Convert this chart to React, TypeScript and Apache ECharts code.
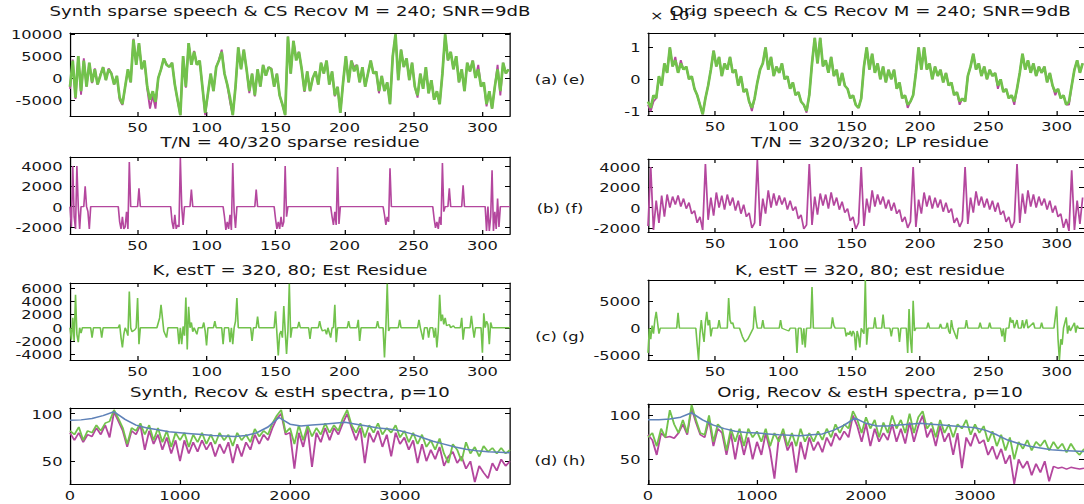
import React, { useEffect, useRef } from "react";
import * as echarts from "echarts";

// ---------- tick labels ----------
const X_TICKS_TIME = [50, 100, 150, 200, 250, 300];
const X_TICKS_FREQ = [0, 1000, 2000, 3000];
const Y_TICKS_A = [-5000, 0, 5000, 10000];
const Y_TICKS_B = [-2000, 0, 2000, 4000];
const Y_TICKS_C = [-4000, -2000, 0, 2000, 4000, 6000];
const Y_TICKS_D = [50, 100];
const Y_TICKS_E = [-1, 0, 1];
const Y_TICKS_F = [-2000, 0, 2000, 4000];
const Y_TICKS_G = [-5000, 0, 5000];
const Y_TICKS_H = [50, 100];

// ---------- titles ----------
const TITLES_LEFT = [
  "Synth sparse speech & CS Recov M = 240; SNR=9dB",
  "T/N = 40/320 sparse residue",
  "K, estT = 320, 80; Est Residue",
  "Synth, Recov & estH spectra, p=10",
];
const TITLES_RIGHT = [
  "Orig speech & CS Recov M = 240; SNR=9dB",
  "T/N = 320/320; LP residue",
  "K, estT = 320, 80; est residue",
  "Orig, Recov & estH spectra, p=10",
];
const PANEL_TAGS = ["(a) (e)", "(b) (f)", "(c) (g)", "(d) (h)"];
const EXPONENT_LABEL = "× 10⁴";

// ---------- sample index (odd samples 1..319) ----------
const SAMPLE_IDX = Array.from({ length: 160 }, (_, i) => 1 + 2 * i);
const SPEC_FREQ = Array.from({ length: 101 }, (_, i) => i * 40);
const ENV_FREQ = Array.from({ length: 41 }, (_, i) => i * 100);

// ---------- (a) synth speech (magenta) & recovered (green) ----------
const A_RECOV = [
  -2000, 4000, -4500, 5000, -3000, 4000, -2000, 3500, -1000, 2000,
  -1500, 500, 2500, -500, 2000, 1000, -1500, 500, -4500, -6000,
  -2000, 2000, -1000, 8800, 3000, 8000, 2000, 4000, -2000, -5000,
  -3000, -5500, 0, 2000, 4500, 3000, 2500, 3500, -1500, -5000,
  -8500, 5000, -2000, 8000, 3000, 6000, 3000, 4000, -2000, -8000,
  -3500, 1000, -3000, 2500, 4000, 6000, 1000, -1500, -4500, -8500,
  -2000, 7000, 2000, 6500, 2000, -3000, 1000, -4000, 2000, -2000,
  3000, 500, 2500, 2000, -2000, 1000, -4000, -6000, -8500, 9500,
  1000, 8500, 4000, 6000, 2000, -3000, 1500, -3000, 0, 1500,
  -1500, 3500, 1000, 4000, -1500, 1500, -4000, -2000, -8000, -1000,
  5000, -1000, 4000, 1500, 3000, -1000, 2500, -2000, 1000, 4000,
  1000, 1500, -3000, 500, -3000, -1000, -6000, 5000, 10000, -500,
  6500, 2500, 4500, -500, 3500, -2000, -4000, 1000, -2500, 2500,
  -3500, -500, -5000, -3000, -6000, 1000, 10000, 4000, 6000, 2000,
  5000, -1000, 2000, -3000, 3500, 1500, 4000, 0, 2000, -2000,
  -1000, -6000, -3000, -7000, -2000, 2000, -3000, 3500, 1000, 2000,
];
const A_SYNTH = [
  -2500, 4200, -4800, 5000, -3800, 4500, -2000, 3500, -1200, 2200,
  -1500, 800, 2500, -500, 2200, 1200, -1500, 500, -5000, -6200,
  -2000, 2000, -1000, 9000, 3000, 8000, 2000, 4000, -2500, -7000,
  -4000, -7000, 0, 2000, 4500, 3200, 2500, 3500, -1500, -5200,
  -8500, 5000, -2200, 8000, 3000, 6200, 3000, 4000, -2000, -8500,
  -3500, 1000, -3000, 2500, 4200, 6500, 1000, -1500, -5500, -8500,
  -2000, 7000, 2000, 6500, 2000, -3500, 1000, -4200, 2000, -2000,
  3000, 500, 2500, 2200, -2000, 1000, -4000, -6200, -8500, 9500,
  1000, 8500, 4500, 6000, 2000, -3200, 1500, -3000, 0, 1500,
  -1500, 3500, 1000, 4000, -1500, 1500, -4200, -2000, -8000, -1000,
  5000, -1000, 4000, 2500, 3000, -1000, 2500, -2000, 1000, 4000,
  1000, 1500, -3500, 500, -3000, -1000, -6000, 5000, 10000, -500,
  6500, 2500, 4500, -500, 3500, -2000, -4500, 1000, -2500, 2500,
  -3500, -500, -5000, -3000, -6000, 1000, 10000, 4000, 6000, 2000,
  5000, -1000, 2000, -3000, 3500, 1500, 4000, 0, 3000, -2000,
  -1000, -6500, -3000, -7000, -2000, 3000, -4000, 3500, 1000, 2000,
];

// ---------- (b) sparse residue [sample, value] ----------
const B_RESIDUE = [
  [1, 0], [2, -2000], [3, 4000], [4, -1000], [5, -2200], [6, 4000], [7, 0], [8, -2200], [9, 0],
  [11, 0], [12, 2000], [13, 0], [14, -500], [15, -2200], [16, 0],
  [36, 0], [37, -1500], [38, -2200], [39, -1000], [40, -2200], [41, -2000], [42, -500], [43, -2200], [44, 4400], [45, 0],
  [50, 0], [51, 1800], [52, 0],
  [74, 0], [75, -1500], [76, -2200], [77, -800], [78, -2200], [79, -1800], [80, -2000], [81, 4800], [82, 0], [83, -1800], [84, 0],
  [88, 0], [89, 1700], [90, 0],
  [112, 0], [113, -1000], [114, -2300], [115, -1500], [116, -2200], [117, -800], [118, -2300], [119, 4300], [120, -500], [121, -2100], [122, 0],
  [135, 0], [136, 1700], [137, 0],
  [149, 0], [150, -1200], [151, -2200], [152, -1500], [153, -2200], [154, -1000], [155, -2000], [156, -1500], [157, 4000], [158, -1000], [159, 0],
  [190, 0], [191, -1000], [192, -1800], [193, -500], [194, -1800], [195, 3900], [196, -1700], [197, 0],
  [228, 0], [229, -800], [230, -1800], [231, -1000], [232, -1500], [233, 3800], [234, 0],
  [264, 0], [265, -1200], [266, -2100], [267, -1500], [268, -2200], [269, -1000], [270, -1800], [271, 4300], [272, -500], [273, 0],
  [275, 0], [276, 1800], [277, 0], [285, 0], [286, 2100], [287, 0],
  [302, 0], [303, -2400], [304, 0], [305, -2400], [306, -1000], [307, 3600], [308, -2400], [309, -500], [310, -2200], [311, 800], [312, -2000], [313, 0],
  [320, 0],
];

// ---------- (c) estimated residue [sample, value] ----------
const C_EST = [
  [1, 0], [2, -1800], [3, 1500], [4, -2000], [5, 5000], [6, -1000], [7, -2200], [8, 0], [9, -800], [10, 0],
  [16, 0], [17, -1500], [18, 0], [23, 0], [24, -1500], [25, 0],
  [36, 0], [37, 500], [38, -1500], [39, -3000], [40, -1000], [41, 0], [42, -500], [43, -1200], [44, 5500], [45, 0],
  [46, -600], [48, -300], [49, 0], [50, 4500], [51, -2500], [52, 0],
  [64, 0], [66, 1500], [67, 3500], [68, 1500], [69, -500], [70, -1000], [71, -1500], [72, 0],
  [79, 0], [80, -2500], [81, 0], [82, -2500], [83, 200], [84, -1200], [85, 4600], [86, -3300], [87, 3200], [88, 0],
  [89, 800], [90, -600], [91, 0], [93, -1000], [94, 0], [97, 0], [98, 800], [99, -500], [100, -2700], [101, 0],
  [105, 0], [106, 1000], [107, 0], [111, 0], [112, -2500], [113, 0], [116, 0], [117, -2200], [118, 0],
  [119, -2500], [120, 0], [121, 1000], [122, 4500], [123, 0], [132, 0], [133, -2000], [134, 0],
  [136, 0], [137, 1700], [138, 0], [149, 0], [150, 2500], [151, -800], [152, -4200], [153, -1000],
  [154, -500], [155, -1500], [156, 3300], [157, -500], [158, -4000], [159, -500], [160, 6700], [161, -1500], [162, 0],
  [166, 0], [167, 900], [168, 0], [174, 0], [175, -1700], [176, 0], [181, 0], [182, 1000], [183, 0],
  [184, -500], [186, -300], [187, -1000], [188, 0], [190, -1500], [191, 0], [192, 0], [193, 3500], [194, -2200], [195, 0],
  [202, 0], [203, 1000], [204, 0], [209, 0], [210, 1200], [211, -2000], [212, 0],
  [223, 0], [224, 1000], [225, 0], [228, 0], [229, -4500], [230, 0], [231, 6700], [232, -500], [233, 0],
  [239, 0], [240, 1200], [241, 0], [253, 0], [254, 1200], [255, 0], [257, -1800], [258, 0],
  [260, 0], [261, -1500], [262, 0], [264, 0], [265, -1500], [266, 0], [267, -3000], [268, -500], [269, 5000],
  [270, 1000], [271, 2000], [272, 500], [273, 1500], [274, 300], [276, 500], [277, 0], [279, 300], [280, 0],
  [284, 0], [285, 1500], [286, -1800], [287, 0], [291, 0], [292, 1800], [293, 0], [294, -1500], [295, 0],
  [299, 0], [300, -3800], [301, 2200], [302, 0], [303, 1000], [304, 500], [305, -2500], [306, 800], [307, 0],
  [310, 0], [320, 0],
];

// ---------- (d) synth / recov / estH spectra (dB) ----------
const D_SYNTH = [
  80, 72, 80, 70, 78, 76, 85, 78, 88, 75,
  102, 92, 82, 65, 82, 78, 88, 62, 82, 68,
  78, 62, 75, 58, 72, 50, 72, 58, 70, 60,
  72, 62, 70, 55, 68, 58, 70, 48, 68, 55,
  70, 62, 78, 68, 78, 72, 85, 95, 100, 78,
  80, 42, 80, 65, 85, 44, 80, 70, 85, 72,
  85, 78, 90, 100, 85, 72, 85, 48, 80, 70,
  82, 65, 78, 55, 80, 68, 75, 62, 72, 48,
  68, 50, 62, 52, 65, 45, 55, 60, 48, 55,
  42, 50, 28, 45, 38, 32, 48, 40, 52, 45,
  50,
];
const D_RECOV = [
  82, 78, 86, 72, 82, 80, 88, 82, 90, 92,
  104, 95, 85, 68, 85, 82, 90, 78, 88, 72,
  85, 70, 82, 65, 80, 72, 80, 65, 78, 70,
  80, 68, 78, 68, 80, 72, 78, 66, 80, 72,
  78, 70, 84, 76, 82, 78, 90, 98, 104, 80,
  85, 68, 88, 72, 88, 76, 85, 78, 90, 80,
  88, 82, 95, 104, 88, 80, 90, 75, 88, 80,
  90, 78, 85, 80, 88, 75, 82, 70, 80, 68,
  78, 65, 72, 62, 74, 58, 48, 68, 62, 50,
  70, 58, 65, 55, 66, 60, 64, 58, 64, 58,
  62,
];
const D_ESTH = [
  93, 93.5, 95, 98, 102, 94, 88, 85, 83, 81,
  80, 79, 78, 77, 76.5, 76, 77, 80, 86, 96,
  89, 87, 88, 89, 90, 91, 89, 87, 85, 84,
  82, 79, 75, 71, 68, 65, 62.5, 61, 60, 59.5,
  59,
];

// ---------- (e) original speech (x 10^4) ----------
const E_RECOV = [
  -0.7, -0.9, -0.5, -0.6, 0.1, -0.2, 0.5, 0.2, 1.0, 0.4,
  0.6, 0.2, 0.5, 0.3, 0.4, 0.0, 0.1, -0.3, -0.5, -0.8,
  -1.1, -0.6, -0.2, 0.3, 0.9, 0.4, 0.7, 0.1, 0.5, 0.3,
  0.7, 0.2, 0.3, -0.2, 0.1, -0.4, -0.3, -0.7, -0.9, -0.6,
  -0.1, 0.3, 0.5, 1.0, 0.3, 0.7, 0.1, 0.4, 0.2, 0.5,
  0.0, 0.1, -0.3, -0.1, -0.5, -0.4, -0.7, -0.8, -1.0, -0.5,
  0.5, 1.3, 0.5, 1.3, 0.4, 0.6, 0.2, 0.7, 0.1, 0.3,
  -0.2, 0.2, -0.2, -0.3, -0.6, -0.5, -0.8, -0.9, -0.6, 0.4,
  1.0, 0.3, 0.8, 0.2, 0.5, 0.0, 0.4, -0.1, 0.3, 0.0,
  0.3, -0.3, -0.1, -0.6, -0.5, -0.8, -0.7, -0.5, 0.2, 1.0,
  0.3, 1.0, 0.3, 0.5, 0.0, 0.4, 0.1, 0.3, -0.1, 0.2,
  -0.2, -0.1, -0.5, -0.4, -0.7, -0.6, -0.7, 0.1, 0.4, 0.8,
  0.3, 0.5, 0.1, 0.4, 0.0, 0.3, 0.1, 0.2, -0.2, 0.0,
  -0.4, -0.3, -0.6, -0.5, -0.7, -0.3, 0.2, 0.8, 0.3, 0.6,
  0.2, 0.5, 0.1, 0.4, 0.2, 0.4, -0.1, 0.2, -0.2, -0.4,
  -0.3, -0.6, -0.5, -0.8, -0.7, -0.2, 0.3, 0.6, 0.2, 0.5,
];
const E_ORIG = [
  -0.8, -1.0, -0.7, -0.6, 0.1, -0.2, 0.5, 0.2, 1.0, 0.4,
  0.7, 0.2, 0.6, 0.3, 0.4, 0.0, 0.1, -0.3, -0.5, -0.8,
  -1.1, -0.6, -0.2, 0.3, 0.9, 0.4, 0.7, 0.1, 0.5, 0.3,
  0.7, 0.2, 0.3, -0.2, 0.1, -0.4, -0.3, -0.7, -1.0, -0.6,
  -0.1, 0.3, 0.5, 1.0, 0.3, 0.7, 0.1, 0.4, 0.2, 0.5,
  0.0, 0.1, -0.3, -0.1, -0.5, -0.4, -0.7, -0.8, -1.05, -0.5,
  0.5, 1.3, 0.5, 1.3, 0.4, 0.6, 0.2, 0.7, 0.1, 0.3,
  -0.2, 0.2, -0.2, -0.3, -0.6, -0.5, -0.8, -0.9, -0.6, 0.4,
  1.0, 0.3, 0.8, 0.2, 0.5, 0.0, 0.4, -0.1, 0.3, 0.0,
  0.3, -0.3, -0.1, -0.6, -0.5, -0.9, -0.7, -0.5, 0.2, 1.0,
  0.3, 1.0, 0.3, 0.5, 0.0, 0.4, 0.1, 0.3, -0.1, 0.2,
  -0.2, -0.1, -0.5, -0.4, -0.8, -0.6, -0.7, 0.1, 0.4, 0.8,
  0.3, 0.5, 0.1, 0.4, 0.0, 0.3, 0.1, 0.2, -0.3, 0.0,
  -0.4, -0.3, -0.6, -0.5, -0.8, -0.3, 0.2, 0.8, 0.3, 0.6,
  0.2, 0.5, 0.1, 0.4, 0.2, 0.4, -0.1, 0.2, -0.2, -0.5,
  -0.3, -0.6, -0.5, -0.8, -0.8, -0.2, 0.3, 0.6, 0.2, 0.5,
];

// ---------- (f) LP residue ----------
const F_LP = [
  -1800, 4000, -2200, 700, -1500, 1200, -900, 1300, 0, 1100,
  300, 1200, 100, 900, -100, 500, -600, -300, -1500, -900,
  -2200,
  4300, -1200, 1000, -800, 1500, 0, 1200, -200, 1300, 200,
  1000, -300, 700, -600, 300, -900, -500, -2000, -1500,
  4700, -1800, 900, -600, 1700, 0, 1400, 200, 1200, 300,
  1000, -200, 700, -300, 100, -1100, -700, -2100, -1700,
  4300, -1700, 1100, -700, 1400, 200, 1300, -100, 1500, 200,
  1000, -200, 600, -500, -100, -1300, -900, -2100, -1500,
  4000, -1800, 900, -500, 1700, 100, 1300, 300, 1100, -100,
  800, -300, 500, -600, -200, -1400, -900, -2000, -1400,
  4000, -1900, 800, -600, 1500, 100, 1200, -100, 1000, 0,
  800, -400, 500, -500, -100, -1500, -1000, -1900, -1300,
  4000, -1600, 1000, -500, 1600, 200, 1100, 0, 900, -200,
  700, -400, 500, -700, -300, -1400, -900, -2000, -1400,
  4300, -1500, 1400, -600, 1700, 100, 1300, 0, 1100, 200,
  900, -200, 700, -500, 200, -900, -600, -2000, -1100, -2300,
  3700, -2200, 700, -1600, 1000,
];

// ---------- (g) estimated residue [sample, value] ----------
const G_EST = [
  [1, -4500], [2, 0], [3, -2000], [4, 500], [5, -1000], [6, 1500], [7, 3000], [8, 1000], [9, -1000], [10, 0],
  [22, 0], [23, 2800], [24, 0], [36, 0], [37, -3000], [38, -5800], [39, -1000], [40, 1500], [41, -800], [42, -2500],
  [43, 1000], [44, 3000], [45, 500], [46, 1500], [47, -1500], [48, 0], [52, 0], [53, 1500], [54, 0],
  [59, 0], [60, 5500], [61, 1500], [62, 800], [63, 1000], [64, 0], [68, 0], [70, -1500], [72, -2500], [74, -2000],
  [76, -1000], [78, 0], [79, 4000], [80, 1500], [81, 0], [84, 0], [85, 1500], [86, 0], [97, 0], [98, 1500], [99, 0],
  [104, -500], [105, 0], [109, 0], [110, -4500], [111, 0], [113, 0], [114, -3000], [115, 0], [116, -3500], [117, 0],
  [120, 0], [121, 7500], [122, 0], [135, 0], [136, 2000], [137, 500], [138, 0], [145, 0], [146, -1500], [147, -800],
  [148, -1200], [149, -500], [150, -1500], [151, -500], [152, -1000], [153, -4000], [154, -500], [155, -1500], [156, -3500], [157, 0],
  [159, -1000], [160, 8800], [161, -3000], [162, 0], [166, 0], [167, 2000], [168, 0], [172, 0], [173, 2500], [174, 0],
  [178, 0], [179, -1500], [180, 0], [184, 0], [185, -2500], [186, 0], [190, 0], [191, -4500], [192, 3500], [193, -2000],
  [194, -4500], [195, 5000], [196, -500], [197, 0], [205, 0], [206, 1000], [207, 0], [214, 0], [215, 800], [216, 0],
  [219, 0], [220, 1000], [221, -500], [222, -1000], [223, 1500], [224, 0], [227, -2000], [228, 0], [233, 0], [234, 1500], [235, 0],
  [243, 0], [244, 1000], [245, 0], [250, 0], [251, 1000], [252, 0], [259, 0], [260, -1500], [261, 0], [262, -2500], [263, 0],
  [265, 0], [266, 2000], [267, 1000], [268, 1500], [269, 0], [271, 1500], [272, 0], [274, 0], [275, 1500], [276, 0],
  [278, 1600], [279, 0], [283, 1000], [284, 0], [288, 0], [289, 1000], [290, 0], [298, 0], [299, 2000], [300, 4000],
  [301, -2000], [302, -5800], [303, -2000], [304, -3000], [305, 0], [306, 1000], [307, 2000], [308, -1000], [309, 500], [310, -500],
  [311, 0], [313, 1000], [314, -800], [315, 500], [316, 0], [320, 0],
];

// ---------- (h) orig / recov / estH spectra (dB) ----------
const H_ORIG = [
  78, 72, 55, 80, 75, 76, 74, 80, 90, 78,
  108, 92, 78, 75, 95, 65, 85, 80, 55, 80,
  50, 78, 55, 75, 50, 70, 55, 80, 60, 28,
  75, 80, 60, 70, 35, 70, 50, 75, 60, 70,
  58, 75, 65, 80, 72, 82, 75, 100, 88, 70,
  90, 65, 85, 70, 80, 72, 90, 70, 85, 68,
  92, 70, 88, 100, 75, 85, 65, 88, 70, 80,
  55, 80, 40, 75, 65, 80, 68, 72, 55, 65,
  50, 62, 45, 55, 22, 50, 40, 48, 32, 45,
  35, 48, 25, 42, 40, 41, 39, 41, 40, 39,
  40,
];
const H_RECOV = [
  75, 80, 65, 85, 75, 106, 90, 80, 95, 80,
  112, 95, 80, 78, 100, 70, 90, 85, 60, 85,
  70, 85, 65, 85, 75, 82, 70, 85, 65, 80,
  70, 85, 65, 80, 65, 85, 70, 80, 70, 82,
  72, 85, 75, 90, 80, 90, 85, 105, 95, 80,
  98, 85, 95, 75, 92, 80, 100, 85, 95, 80,
  102, 80, 98, 105, 85, 92, 75, 95, 80, 90,
  75, 90, 85, 95, 78, 90, 80, 88, 70, 82,
  65, 78, 60, 75, 50, 70, 62, 72, 60, 70,
  65, 72, 60, 70, 62, 68, 58, 68, 60, 55,
  62,
];
const H_ESTH = [
  95, 95, 96, 98, 103, 95, 89, 85, 82, 80.5,
  80, 79, 78, 77.5, 77, 78, 79, 83, 89, 97,
  91, 88, 88, 89, 90, 91, 90, 89, 88, 87,
  86, 83, 78, 72, 68, 65, 63, 61, 60, 59.5,
  59,
];

const MAGENTA = "#b4479e";
const GREEN = "#72c24c";
const BLUE = "#5f82b8";
const TEXT = "#151515";
const FONT = "DejaVu Sans";

// The reference picture is stretched horizontally; the chart is drawn in a
// narrower box and widened with a CSS scaleX so texts get the same wide look.
const PAGE_W = 1084;
const INNER_W = 868;
const SX = PAGE_W / INNER_W;
const ix = (px: number) => px / SX;

const pairs = (xs: number[], ys: number[]) => xs.map((x, i) => [x, ys[i]]);

type Panel = {
  left: number; top: number; height: number;
  xMin: number; xMax: number; yMin: number; yMax: number;
  xTicks: number[]; yTicks: number[];
  series: { data: number[][]; color: string; width: number }[];
};

const PANELS: Panel[] = [
  { left: 70, top: 33, height: 83, xMin: 1, xMax: 320, yMin: -8700, yMax: 10300, xTicks: X_TICKS_TIME, yTicks: Y_TICKS_A,
    series: [
      { data: pairs(SAMPLE_IDX, A_SYNTH), color: MAGENTA, width: 1.5 },
      { data: pairs(SAMPLE_IDX, A_RECOV), color: GREEN, width: 2.2 },
    ] },
  { left: 70, top: 157, height: 77, xMin: 1, xMax: 320, yMin: -2700, yMax: 4900, xTicks: X_TICKS_TIME, yTicks: Y_TICKS_B,
    series: [{ data: B_RESIDUE, color: MAGENTA, width: 1.3 }] },
  { left: 70, top: 283, height: 77, xMin: 1, xMax: 320, yMin: -4900, yMax: 6800, xTicks: X_TICKS_TIME, yTicks: Y_TICKS_C,
    series: [{ data: C_EST, color: GREEN, width: 1.3 }] },
  { left: 70, top: 408, height: 76, xMin: 0, xMax: 4000, yMin: 26, yMax: 106, xTicks: X_TICKS_FREQ, yTicks: Y_TICKS_D,
    series: [
      { data: pairs(SPEC_FREQ, D_SYNTH), color: MAGENTA, width: 1.5 },
      { data: pairs(SPEC_FREQ, D_RECOV), color: GREEN, width: 1.5 },
      { data: pairs(ENV_FREQ, D_ESTH), color: BLUE, width: 1.5 },
    ] },
  { left: 648, top: 33, height: 82, xMin: 1, xMax: 320, yMin: -1.12, yMax: 1.45, xTicks: X_TICKS_TIME, yTicks: Y_TICKS_E,
    series: [
      { data: pairs(SAMPLE_IDX, E_ORIG), color: MAGENTA, width: 1.5 },
      { data: pairs(SAMPLE_IDX, E_RECOV), color: GREEN, width: 2.2 },
    ] },
  { left: 648, top: 159, height: 73, xMin: 1, xMax: 320, yMin: -2400, yMax: 4800, xTicks: X_TICKS_TIME, yTicks: Y_TICKS_F,
    series: [{ data: pairs(SAMPLE_IDX, F_LP), color: MAGENTA, width: 1.4 }] },
  { left: 648, top: 280, height: 80, xMin: 1, xMax: 320, yMin: -5800, yMax: 8800, xTicks: X_TICKS_TIME, yTicks: Y_TICKS_G,
    series: [{ data: G_EST, color: GREEN, width: 1.3 }] },
  { left: 648, top: 404, height: 80, xMin: 0, xMax: 4000, yMin: 22, yMax: 113, xTicks: X_TICKS_FREQ, yTicks: Y_TICKS_H,
    series: [
      { data: pairs(SPEC_FREQ, H_ORIG), color: MAGENTA, width: 1.5 },
      { data: pairs(SPEC_FREQ, H_RECOV), color: GREEN, width: 1.5 },
      { data: pairs(ENV_FREQ, H_ESTH), color: BLUE, width: 1.5 },
    ] },
];

const PLOT_W = 440;
const TITLE_Y = [11, 142, 270, 392];
const TAG_Y = [79, 208, 336, 460];

function buildOption() {
  const grid: any[] = [];
  const xAxis: any[] = [];
  const yAxis: any[] = [];
  const series: any[] = [];
  const line = { show: true, onZero: false, lineStyle: { color: "#000", width: 1 } };
  const label = {
    color: TEXT, fontFamily: FONT, fontSize: 13, hideOverlap: false,
    formatter: (v: number) => String(v),
  };
  const tick = (vals: number[]) => ({ show: true, inside: true, length: 4, customValues: vals, lineStyle: { color: "#000" } });
  PANELS.forEach((p, i) => {
    grid.push({ left: ix(p.left), top: p.top, width: ix(PLOT_W), height: p.height, containLabel: false });
    const xBase = { type: "value", gridIndex: i, min: p.xMin, max: p.xMax, splitLine: { show: false }, axisLine: line };
    xAxis.push({ ...xBase, position: "bottom", axisTick: tick(p.xTicks),
      axisLabel: { ...label, show: true, customValues: p.xTicks, margin: 5 } });
    xAxis.push({ ...xBase, position: "top", axisTick: tick(p.xTicks), axisLabel: { show: false } });
    const yBase = { type: "value", gridIndex: i, min: p.yMin, max: p.yMax, splitLine: { show: false }, axisLine: line };
    yAxis.push({ ...yBase, position: "left", axisTick: tick(p.yTicks),
      axisLabel: { ...label, show: true, customValues: p.yTicks, margin: 6 } });
    yAxis.push({ ...yBase, position: "right", axisTick: tick(p.yTicks), axisLabel: { show: false } });
    p.series.forEach((s) => {
      series.push({
        type: "line", xAxisIndex: 2 * i, yAxisIndex: 2 * i, data: s.data,
        symbol: "none", showSymbol: false, clip: true, silent: true,
        lineStyle: { color: s.color, width: s.width }, z: 2,
      });
    });
  });

  const txt = (text: string, x: number, y: number, size: number, align = "center") => ({
    type: "text", x: ix(x), y,
    style: {
      text, fontFamily: FONT, fontSize: size, fill: TEXT,
      align, verticalAlign: "middle", textAlign: align, textVerticalAlign: "middle",
    },
  });
  const graphic: any[] = [];
  graphic.push({ ...txt(EXPONENT_LABEL, 650, 15, 13, "left"), z: 0 });
  TITLES_LEFT.forEach((t, i) => graphic.push(txt(t, 70 + PLOT_W / 2, TITLE_Y[i], 14.5)));
  TITLES_RIGHT.forEach((t, i) => graphic.push(txt(t, 870, TITLE_Y[i], 14.5)));
  PANEL_TAGS.forEach((t, i) => graphic.push(txt(t, 560, TAG_Y[i], 13)));

  return { animation: false, backgroundColor: "#fff", grid, xAxis, yAxis, series, graphic };
}

export default function App() {
  const ref = useRef<HTMLDivElement>(null);
  useEffect(() => {
    if (!ref.current) return;
    const chart = echarts.init(ref.current, undefined, { renderer: "svg" });
    chart.setOption(buildOption() as any);
    return () => chart.dispose();
  }, []);
  return (
    <div style={{ position: "absolute", left: 0, top: 0, width: PAGE_W, height: 504, overflow: "hidden", background: "#fff" }}>
      <div
        ref={ref}
        style={{
          width: INNER_W, height: 504, background: "#fff",
          transform: `scaleX(${SX})`, transformOrigin: "0 0",
        }}
      />
    </div>
  );
}
